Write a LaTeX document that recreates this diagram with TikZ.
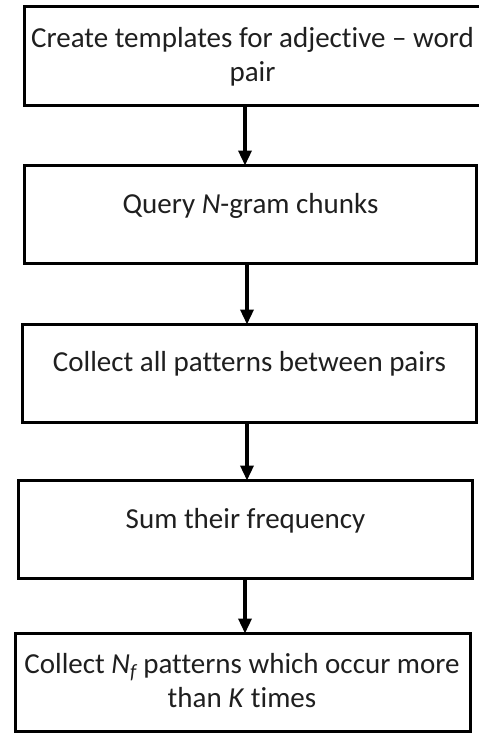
\documentclass[tikz,border=0pt]{standalone}
\usepackage{fontspec}
\setmainfont{Carlito}[Ligatures=NoCommon]
\usetikzlibrary{arrows.meta}
\begin{document}
\begin{tikzpicture}[x=1pt,y=-1pt,
  stepbox/.style={draw=black,line width=3.2pt,rectangle,inner sep=0pt,outer sep=0pt},
  steptext/.style={anchor=base,align=center,inner sep=0pt,text=black!88,
    font=\fontsize{29}{34}\selectfont},
  flow/.style={line width=3.4pt,-{Triangle[width=13pt,length=15pt]}}]
  \clip (0,0) rectangle (479,734);
  \fill[white] (0,0) rectangle (479,734);

  % process boxes
  \node[stepbox,minimum width=456.5pt,minimum height=99pt] (b1) at (252.75,56) {};
  \node[stepbox,minimum width=452pt,minimum height=98pt] (b2) at (250.5,214.5) {};
  \node[stepbox,minimum width=454pt,minimum height=98pt] (b3) at (249.5,373.5) {};
  \node[stepbox,minimum width=454pt,minimum height=98pt] (b4) at (245.5,529.5) {};
  \node[stepbox,minimum width=455pt,minimum height=98pt] (b5) at (243,682.5) {};

  % box labels (multi-line labels are anchored on their last baseline)
  \node[steptext] (t1) at (252.5,81) {Create templates for adjective -- word\\pair};
  \node[steptext] (t2) at (250.5,213) {Query \textit{N}-gram chunks};
  \node[steptext] (t3) at (249.5,371) {Collect all patterns between pairs};
  \node[steptext] (t4) at (245.5,528) {Sum their frequency};
  \node[steptext] (t5) at (242,707) {Collect \textit{N\textsubscript{f}} patterns which occur more\\than \textit{K} times};

  % connectors
  \draw[flow] (b1.south -| 245,0) -- (b2.north -| 245,0);
  \draw[flow] (b2.south -| 247,0) -- (b3.north -| 247,0);
  \draw[flow] (b3.south -| 247,0) -- (b4.north -| 247,0);
  \draw[flow] (b4.south -| 245,0) -- (b5.north -| 245,0);
\end{tikzpicture}
\end{document}
